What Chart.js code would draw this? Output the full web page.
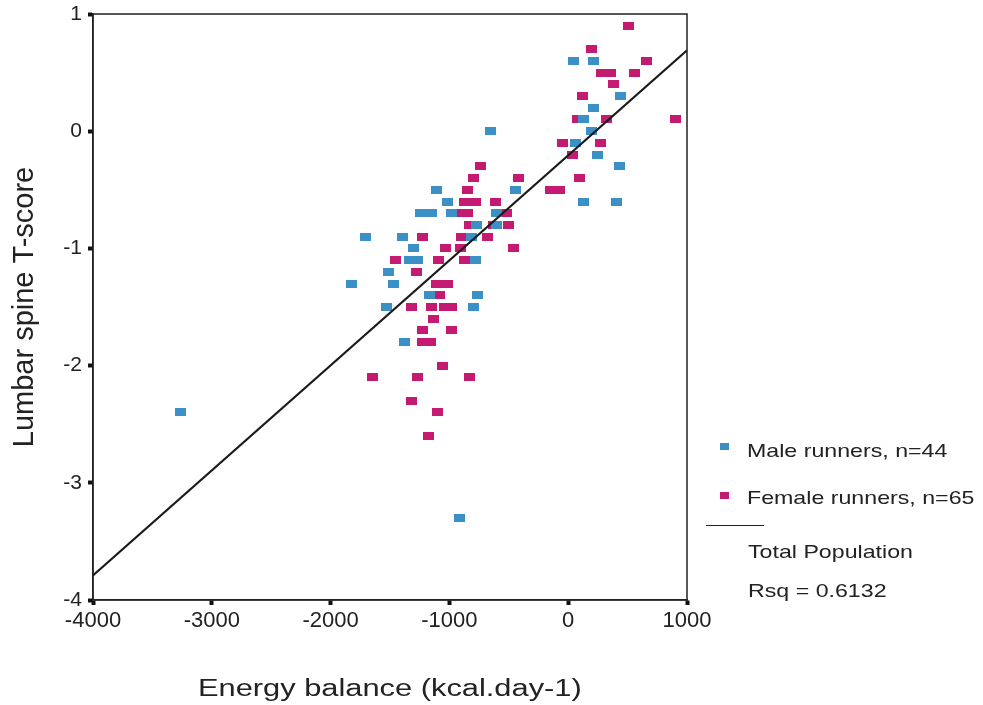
<!DOCTYPE html>
<html>
<head>
<meta charset="utf-8">
<script src="https://cdn.jsdelivr.net/npm/chart.js@4.4.1/dist/chart.umd.min.js"></script>
<style>
  body { margin: 0; background: #fff; }
  #wrap { position: relative; width: 983px; height: 705px; }
  #chart { position: absolute; left: 0; top: 0; }
  .lg { position: absolute; font-family: "Liberation Sans", Arial, sans-serif; font-size: 19px; line-height: 1;
        color: #222; white-space: nowrap; transform: scaleX(1.22); transform-origin: 0 0; }
  .sw { position: absolute; width: 9px; height: 7px; }
  #xtitle { position: absolute; left: 198px; top: 677px; font-family: "Liberation Sans", Arial, sans-serif;
        font-size: 23px; line-height: 1; color: #222; white-space: nowrap; transform: scaleX(1.34); transform-origin: 0 0; }
</style>
</head>
<body>
<div id="wrap">
  <canvas id="chart" width="983" height="705"></canvas>
  <div id="xtitle">Energy balance (kcal.day-1)</div>
  <div class="sw" style="left:720px;top:443px;background:#3b90c6"></div>
  <div class="lg" style="left:747px;top:441px">Male runners, n=44</div>
  <div class="sw" style="left:720px;top:492px;background:#c41a72"></div>
  <div class="lg" style="left:747px;top:488px">Female runners, n=65</div>
  <div style="position:absolute;left:706px;top:525px;width:58px;height:1px;background:#222"></div>
  <div class="lg" style="left:748px;top:542px">Total Population</div>
  <div class="lg" style="left:748px;top:581px">Rsq = 0.6132</div>
</div>
<script>
// values
var maleX = [45, 215, 440, 215, 130, 195, 65, 250, 430, 130, 410, -655, -1110, -440, -1020,
  -1240, -1150, -980, -600, -770, -600, -1710, -1395, -810, -1300, -1340, -1270, -780,
  -1510, -1820, -1470, -1170, -760, -1530, -800, -1380, -3260, -915];
var maleY = [0.6, 0.6, 0.3, 0.2, 0.1, 0.0, -0.1, -0.2, -0.3, -0.6, -0.6, 0.0, -0.5, -0.5, -0.6,
  -0.7, -0.7, -0.7, -0.7, -0.8, -0.8, -0.9, -0.9, -0.9, -1.0, -1.1, -1.1, -1.1,
  -1.2, -1.3, -1.3, -1.4, -1.4, -1.5, -1.5, -1.8, -2.4, -3.3];

var femaleX = [510, 200, 660, 280, 360, 555, 380, 120, 75, 325, 905, -50, 270, 35, 95, -145, -75,
  -735, -800, -420, -850, -870, -780, -610, -940, -850, -520, -830, -630, -500,
  -1230, -900, -680, -1035, -910, -460, -1450, -1090, -870, -1280, -1110, -1020, -1080,
  -1320, -1150, -1040, -980, -1130, -1230, -985, -1230, -1160, -1060, -1650, -1265, -830,
  -1320, -1100, -1180];
var femaleY = [0.9, 0.7, 0.6, 0.5, 0.5, 0.5, 0.4, 0.3, 0.1, 0.1, 0.1, -0.1, -0.1, -0.2, -0.4, -0.5, -0.5,
  -0.3, -0.4, -0.4, -0.5, -0.6, -0.6, -0.6, -0.7, -0.7, -0.7, -0.8, -0.8, -0.8,
  -0.9, -0.9, -0.9, -1.0, -1.0, -1.0, -1.1, -1.1, -1.1, -1.2, -1.3, -1.3, -1.4,
  -1.5, -1.5, -1.5, -1.5, -1.6, -1.7, -1.7, -1.8, -1.8, -2.0, -2.1, -2.1, -2.1,
  -2.3, -2.4, -2.6];

// fit line ends
var fitX = [-4000, 1000];
var fitY = [-3.79, 0.69];

var xTicks = [-4000, -3000, -2000, -1000, 0, 1000];
var yTicks = [1, 0, -1, -2, -3, -4];

var BLUE = '#3b90c6';
var MAGENTA = '#c41a72';
var FONT = '"Liberation Sans", Arial, sans-serif';

function marker(color) {
  var c = document.createElement('canvas');
  c.width = 11;
  c.height = 8;
  var g = c.getContext('2d');
  g.fillStyle = color;
  g.fillRect(0, 0, 11, 8);
  return c;
}

function pts(xs, ys) {
  return xs.map(function(x, i) { return {x: x, y: ys[i]}; });
}

var boxPlugin = {
  id: 'box',
  afterDraw: function(chart) {
    var a = chart.chartArea;
    var c = chart.ctx;
    c.save();
    c.strokeStyle = '#222';
    c.lineWidth = 1.5;
    c.strokeRect(a.left, a.top, a.right - a.left, a.bottom - a.top);
    c.restore();
  }
};

var ctx = document.getElementById('chart');
var chart = new Chart(ctx, {
  type: 'scatter',
  data: {
    datasets: [{
      label: 'Total Population',
      type: 'line',
      data: pts(fitX, fitY),
      borderColor: '#1a1a1a',
      borderWidth: 2,
      pointRadius: 0,
      fill: false
    }, {
      label: 'Male runners, n=44',
      data: pts(maleX, maleY),
      pointStyle: marker(BLUE),
      pointRadius: 5
    }, {
      label: 'Female runners, n=65',
      data: pts(femaleX, femaleY),
      pointStyle: marker(MAGENTA),
      pointRadius: 5
    }]
  },
  options: {
    responsive: false,
    animation: false,
    layout: { padding: { top: 14, right: 296, left: 0, bottom: 0 } },
    plugins: { legend: { display: false }, tooltip: { enabled: false } },
    scales: {
      x: {
        type: 'linear',
        min: -4000,
        max: 1000,
        afterBuildTicks: function(s) { s.ticks = xTicks.map(function(v) { return {value: v}; }); },
        afterFit: function(s) { s.height = 105; s.paddingLeft = 0; s.paddingRight = 0; },
        grid: { drawOnChartArea: false, tickLength: 5, tickWidth: 4, tickColor: '#111' },
        border: { display: true, color: '#222', width: 1.5 },
        ticks: { color: '#222', font: { family: FONT, size: 22 }, padding: 3, maxRotation: 0,
          callback: function(v) { return String(v); } }
      },
      y: {
        type: 'linear',
        min: -4,
        max: 1,
        afterBuildTicks: function(s) { s.ticks = yTicks.map(function(v) { return {value: v}; }); },
        afterFit: function(s) { s.width = 93; s.paddingTop = 0; s.paddingBottom = 0; },
        grid: { drawOnChartArea: false, tickLength: 5, tickWidth: 4, tickColor: '#111' },
        border: { display: true, color: '#222', width: 1.5 },
        ticks: { color: '#222', font: { family: FONT, size: 21 }, padding: 6,
          callback: function(v) { return String(v); } },
        title: { display: true, text: 'Lumbar spine T-score', color: '#222',
          font: { family: FONT, size: 29 }, padding: { top: 8, bottom: 0 } }
      }
    }
  },
  plugins: [boxPlugin]
});
</script>
</body>
</html>
